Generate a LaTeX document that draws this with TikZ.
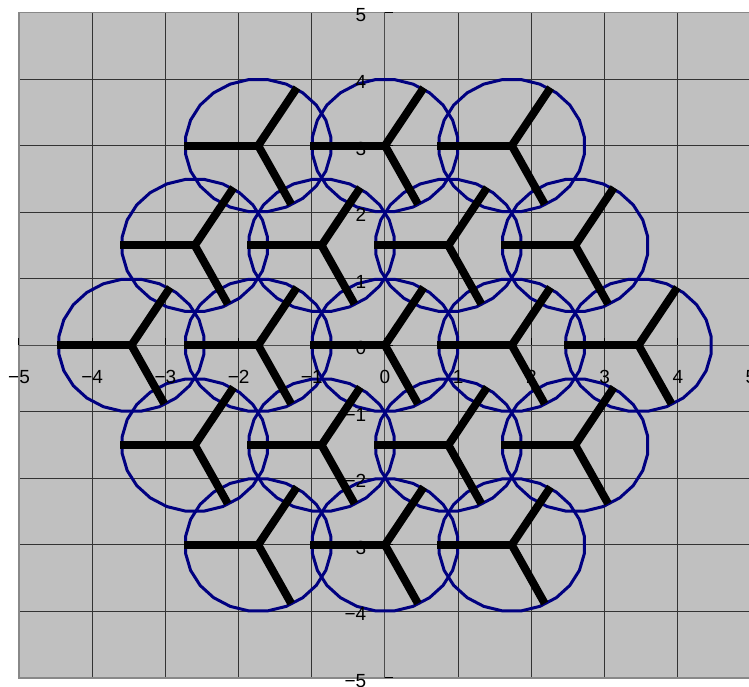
\documentclass[tikz,border=0pt]{standalone}
\usepackage{fontspec}
\setmainfont{Liberation Sans}
\usetikzlibrary{calc}
\definecolor{plotbg}{HTML}{C0C0C0}
\definecolor{ringblue}{HTML}{000080}
\definecolor{framegray}{HTML}{888888}
\begin{document}
\begin{tikzpicture}[x=36.6pt,y=33.275pt,
  gridline/.style={line width=0.5pt, draw=black!80},
  axisline/.style={line width=0.5pt, draw=black!70},
  tickmark/.style={line width=0.5pt, draw=black},
  ring/.style={draw=ringblue, line width=1.5pt, line join=round},
  arm/.style={line width=4pt, line cap=butt, line join=miter, draw=black},
  ticklabel/.style={font=\fontsize{9.5}{11}\selectfont, inner sep=0pt},
]
\clip (-5.2596,-5.135) rectangle (4.973,5.188);
\fill[white] (-5.2596,-5.135) rectangle (4.973,5.188);
\fill[plotbg] (-5,-5) rectangle (5,5);
% grid
\foreach \k in {-4,...,4} {
  \draw[gridline] (\k,-5) -- (\k,5);
  \draw[gridline] (-5,\k) -- (5,\k);
}
\draw[framegray, line width=0.7pt] (-5,-5) rectangle (5,5);
% axes
\draw[axisline] (-5,0) -- (5,0);
\draw[axisline] (0,-5) -- (0,5);
\foreach \k in {-5,...,5} {
  \draw[tickmark] (0,\k) -- ++(0.109,0);
  \draw[tickmark] (\k,0) -- ++(0,0.105);
}
% circles
\foreach \cx/\cy [count=\i] in {-1.7321/3, 0/3, 1.7321/3,
  -2.5981/1.5, -0.8660/1.5, 0.8660/1.5, 2.5981/1.5,
  -3.4641/0, -1.7321/0, 0/0, 1.7321/0, 3.4641/0,
  -2.5981/-1.5, -0.8660/-1.5, 0.8660/-1.5, 2.5981/-1.5,
  -1.7321/-3, 0/-3, 1.7321/-3} {
  \coordinate (c\i) at (\cx,\cy);
  \draw[ring] plot[domain=7.5:352.5, samples=24, variable=\t] ({\cx+cos(\t)},{\cy+sin(\t)}) -- cycle;
}
% labels
\foreach \k/\t in {-5/−5,-4/−4,-3/−3,-2/−2,-1/−1,0/0,1/1,2/2,3/3,4/4,5/5} {
  \node[ticklabel, anchor=east] (ylab\k) at (-0.25,\k-0.045) {\t};
  \node[ticklabel] (xlab\k) at (\k,-0.475) {\t};
}
% Y-shaped arms
\foreach \i in {1,...,19} {
  \draw[arm] ($(c\i)+(0.53,0.87)$) -- (c\i) -- ($(c\i)+(0.45,-0.88)$);
  \draw[arm] (c\i) -- ($(c\i)+(-1.02,0)$);
}
\end{tikzpicture}
\end{document}
